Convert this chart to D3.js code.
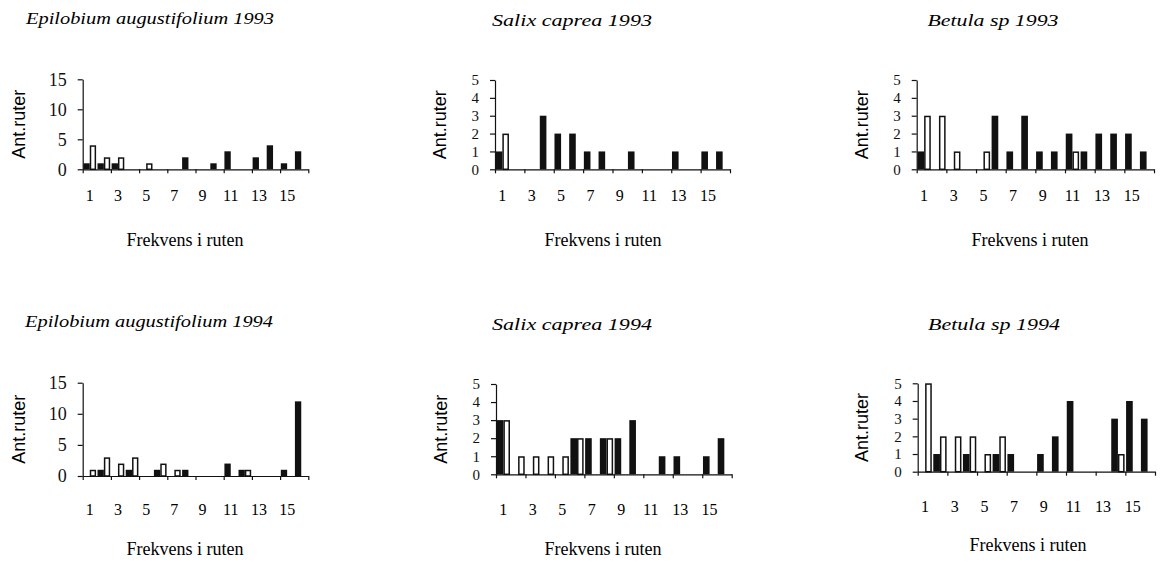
<!DOCTYPE html>
<html>
<head>
<meta charset="utf-8">
<script src="https://cdn.jsdelivr.net/npm/d3@7"></script>
<style>
  body { margin: 0; background: #ffffff; }
  svg  { display: block; }
</style>
</head>
<body>
<svg id="chart" width="1163" height="566"></svg>
<script>
// categories on the x axis (frequency in the plot) and the labels that are shown
const categories  = [1, 2, 3, 4, 5, 6, 7, 8, 9, 10, 11, 12, 13, 14, 15, 16];
const xTickLabels = [1, 3, 5, 7, 9, 11, 13, 15];

const panelTitles = [
  "Epilobium augustifolium 1993", "Salix caprea 1993", "Betula sp 1993",
  "Epilobium augustifolium 1994", "Salix caprea 1994", "Betula sp 1994"
];

// black bars / white bars per panel
const epi93Black = [1, 1, 1, 0, 0, 0, 0, 2, 0, 1, 3, 0, 2, 4, 1, 3];
const epi93White = [4, 2, 2, 0, 1, 0, 0, 0, 0, 0, 0, 0, 0, 0, 0, 0];
const sal93Black = [1, 0, 0, 3, 2, 2, 1, 1, 0, 1, 0, 0, 1, 0, 1, 1];
const sal93White = [2, 0, 0, 0, 0, 0, 0, 0, 0, 0, 0, 0, 0, 0, 0, 0];
const bet93Black = [1, 0, 0, 0, 0, 3, 1, 3, 1, 1, 2, 1, 2, 2, 2, 1];
const bet93White = [3, 3, 1, 0, 1, 0, 0, 0, 0, 0, 1, 0, 0, 0, 0, 0];
const epi94Black = [0, 1, 0, 1, 0, 1, 0, 1, 0, 0, 2, 1, 0, 0, 1, 12];
const epi94White = [1, 3, 2, 3, 0, 2, 1, 0, 0, 0, 0, 1, 0, 0, 0, 0];
const sal94Black = [3, 0, 0, 0, 0, 2, 2, 2, 2, 3, 0, 1, 1, 0, 1, 2];
const sal94White = [3, 1, 1, 1, 1, 2, 0, 2, 0, 0, 0, 0, 0, 0, 0, 0];
const bet94Black = [0, 1, 0, 1, 0, 1, 1, 0, 1, 2, 4, 0, 0, 3, 4, 3];
const bet94White = [5, 2, 2, 2, 1, 2, 0, 0, 0, 0, 0, 0, 0, 1, 0, 0];

const yTicksEpi = [0, 5, 10, 15];
const yTicksSmall = [0, 1, 2, 3, 4, 5];

const yLabel = "Ant.ruter";
const xLabel = "Frekvens i ruten";

// layout of the six small charts (pixel positions only)
const panels = [
  { t: 0, blk: epi93Black, wht: epi93White, ticks: yTicksEpi,   x0: 82.7,  x1: 308.3, yTop: 79.3,  yBot: 169.3, tx: 150,  tb: 24,  tw: 248, yl: 19,  lb: 201, fx: 185,  fb: 246 },
  { t: 1, blk: sal93Black, wht: sal93White, ticks: yTicksSmall, x0: 495,   x1: 730,   yTop: 80,    yBot: 169.3, tx: 572,  tb: 26,  tw: 160, yl: 440, lb: 201, fx: 603,  fb: 246 },
  { t: 2, blk: bet93Black, wht: bet93White, ticks: yTicksSmall, x0: 916.7, x1: 1154,  yTop: 80,    yBot: 169.3, tx: 993,  tb: 26,  tw: 131, yl: 862, lb: 201, fx: 1030, fb: 246 },
  { t: 3, blk: epi94Black, wht: epi94White, ticks: yTicksEpi,   x0: 82.7,  x1: 308.3, yTop: 382.7, yBot: 476,   tx: 149,  tb: 327, tw: 248, yl: 19,  lb: 515, fx: 185,  fb: 555 },
  { t: 4, blk: sal94Black, wht: sal94White, ticks: yTicksSmall, x0: 496,   x1: 731.7, yTop: 384,   yBot: 474.3, tx: 572,  tb: 330, tw: 160, yl: 441, lb: 515, fx: 603,  fb: 555 },
  { t: 5, blk: bet94Black, wht: bet94White, ticks: yTicksSmall, x0: 917.7, x1: 1155,  yTop: 383.3, yBot: 471.7, tx: 994,  tb: 330, tw: 132, yl: 862, lb: 512, fx: 1028, fb: 551 }
];

const svg = d3.select("#chart");
const serif = "'Liberation Serif', 'Times New Roman', serif";
const sans  = "'Liberation Sans', Arial, sans-serif";

panels.forEach(p => {
  const g = svg.append("g").attr("class", "panel");

  const yMax = d3.max(p.ticks);
  const y = d3.scaleLinear().domain([0, yMax]).range([p.yBot, p.yTop]);
  const xBand = d3.scaleBand().domain(categories).range([p.x0, p.x1])
                  .paddingInner(0.1).paddingOuter(0.05);
  const xSub  = d3.scaleBand().domain(["blk", "wht"]).range([0, xBand.bandwidth()]);
  const xLin  = d3.scaleLinear().domain([0, categories.length]).range([p.x0, p.x1]);

  // title
  g.append("text")
    .attr("x", p.tx).attr("y", p.tb)
    .attr("text-anchor", "middle")
    .attr("textLength", p.tw).attr("lengthAdjust", "spacingAndGlyphs")
    .style("font-family", serif).style("font-style", "italic").style("font-size", "17px")
    .text(panelTitles[p.t]);

  // bars
  const rows = categories.map((c, i) => ({ c: c, blk: p.blk[i], wht: p.wht[i] }));

  g.selectAll("rect.blk")
    .data(rows.filter(d => d.blk > 0))
    .enter().append("rect")
      .attr("class", "blk")
      .attr("x", d => xBand(d.c) + xSub("blk"))
      .attr("y", d => y(d.blk))
      .attr("width", xSub.bandwidth())
      .attr("height", d => y(0) - y(d.blk))
      .attr("fill", "#111111");

  g.selectAll("rect.wht")
    .data(rows.filter(d => d.wht > 0))
    .enter().append("rect")
      .attr("class", "wht")
      .attr("x", d => xBand(d.c) + xSub("wht") + 0.75)
      .attr("y", d => y(d.wht) + 0.75)
      .attr("width", xSub.bandwidth() - 1.5)
      .attr("height", d => y(0) - y(d.wht) - 0.75)
      .attr("fill", "#ffffff")
      .attr("stroke", "#111111")
      .attr("stroke-width", 1.5);

  // y axis (small 0-5 axes get a slightly smaller font so the labels do not collide)
  const tickFont = p.ticks.length > 4 ? "15px" : "18px";
  const yAx = g.append("g")
    .attr("transform", "translate(" + p.x0 + ",0)")
    .call(d3.axisLeft(y).tickValues(p.ticks).tickFormat(d3.format("d"))
            .tickSize(5).tickSizeOuter(0).tickPadding(11));
  yAx.selectAll("text").style("font-family", serif).style("font-size", tickFont).attr("fill", "#111");

  // x axis: ticks every second category boundary
  g.append("g")
    .attr("transform", "translate(0," + p.yBot + ")")
    .call(d3.axisBottom(xLin).tickValues(d3.range(0, categories.length + 1, 2))
            .tickSize(4).tickSizeOuter(0).tickFormat(""));
  g.selectAll("path.domain, .tick line").attr("stroke", "#111").attr("stroke-width", 1.2);

  // x tick labels at odd categories
  g.selectAll("text.xlab")
    .data(xTickLabels)
    .enter().append("text")
      .attr("class", "xlab")
      .attr("x", d => xBand(d) + xBand.bandwidth() / 2)
      .attr("y", p.lb)
      .attr("text-anchor", "middle")
      .style("font-family", serif).style("font-size", "16px")
      .text(d => d);

  // axis titles
  g.append("text")
    .attr("transform", "translate(" + p.yl + "," + ((p.yTop + p.yBot) / 2) + ") rotate(-90)")
    .attr("dy", "0.35em")
    .attr("text-anchor", "middle")
    .style("font-family", sans).style("font-size", "18px")
    .text(yLabel);

  g.append("text")
    .attr("x", p.fx).attr("y", p.fb)
    .attr("text-anchor", "middle")
    .style("font-family", serif).style("font-size", "18px")
    .text(xLabel);
});
</script>
</body>
</html>
